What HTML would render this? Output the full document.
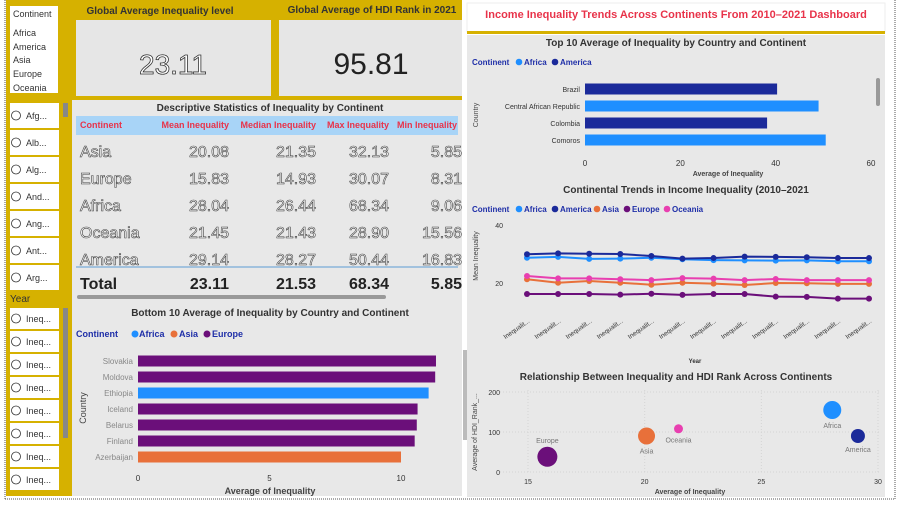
<!DOCTYPE html>
<html><head><meta charset="utf-8">
<style>
html,body{margin:0;padding:0;background:#fff;}
body{width:903px;height:504px;overflow:hidden;font-family:"Liberation Sans",sans-serif;}
svg text{font-family:"Liberation Sans",sans-serif;}
</style></head>
<body>
<svg id="dash" width="903" height="504" viewBox="0 0 903 504" xmlns="http://www.w3.org/2000/svg">
  <rect x="0" y="0" width="903" height="504" fill="#fff"/>
  <line x1="5" y1="0" x2="5" y2="499" stroke="#555" stroke-dasharray="1,1"/>
  <line x1="5" y1="499" x2="895" y2="499" stroke="#555" stroke-dasharray="1,1"/>
  <line x1="895" y1="0" x2="895" y2="499" stroke="#555" stroke-dasharray="1,1"/>
  <rect x="6" y="0" width="66" height="496" fill="#d6b100"/>
  <rect x="72" y="0" width="390" height="100" fill="#d6b100"/>
  <g>
    <rect x="10" y="6" width="48" height="87" fill="#fff"/>
    <text x="13" y="17" font-size="9" fill="#333">Continent</text>
    <text x="13" y="36" font-size="9" fill="#333">Africa</text>
    <text x="13" y="50" font-size="9" fill="#333">America</text>
    <text x="13" y="63" font-size="9" fill="#333">Asia</text>
    <text x="13" y="77" font-size="9" fill="#333">Europe</text>
    <text x="13" y="91" font-size="9" fill="#333">Oceania</text>
  </g>
  <g id="slicer1"></g>
  <rect x="63" y="103" width="5" height="14" fill="#888"/>
  <text x="10" y="302" font-size="10" fill="#333">Year</text>
  <g id="slicer2"></g>
  <rect x="63" y="308" width="5" height="130" fill="#888"/>
  <g>
    <text x="160" y="14" font-size="10" font-weight="bold" fill="#333" text-anchor="middle">Global Average Inequality level</text>
    <rect x="76" y="20" width="195" height="76" fill="#e6e6e6"/>
    <text x="173" y="74" font-size="28" fill="#fff" stroke="#333" stroke-width="0.8" text-anchor="middle">23.11</text>
  </g>
  <g>
    <text x="372" y="13" font-size="10" font-weight="bold" fill="#333" text-anchor="middle">Global Average of HDI Rank in 2021</text>
    <rect x="279" y="20" width="183" height="76" fill="#e6e6e6"/>
    <text x="371" y="74" font-size="30" fill="#222" text-anchor="middle">95.81</text>
  </g>
  <g>
    <rect x="72" y="100" width="390" height="200" fill="#e8e8e8"/>
    <text x="270" y="111" font-size="10" font-weight="bold" fill="#333" text-anchor="middle">Descriptive Statistics of Inequality by Continent</text>
    <rect x="76" y="116" width="382" height="19" fill="#a8d4f7"/>
    <text x="80" y="128" font-size="9" font-weight="bold" fill="#e8334a">Continent</text>
    <text x="229" y="128" font-size="9" font-weight="bold" fill="#e8334a" text-anchor="end">Mean Inequality</text>
    <text x="316" y="128" font-size="9" font-weight="bold" fill="#e8334a" text-anchor="end">Median Inequality</text>
    <text x="389" y="128" font-size="9" font-weight="bold" fill="#e8334a" text-anchor="end">Max Inequality</text>
    <text x="397" y="128" font-size="9" font-weight="bold" fill="#e8334a">Min Inequality</text>
    <g id="tbody"></g>
    <line x1="76" y1="267" x2="458" y2="267" stroke="#5b9bd5"/>
    <text x="80" y="289" font-size="16" font-weight="bold" fill="#222">Total</text>
    <text x="229" y="289" font-size="16" font-weight="bold" fill="#222" text-anchor="end">23.11</text>
    <text x="316" y="289" font-size="16" font-weight="bold" fill="#222" text-anchor="end">21.53</text>
    <text x="389" y="289" font-size="16" font-weight="bold" fill="#222" text-anchor="end">68.34</text>
    <text x="462" y="289" font-size="16" font-weight="bold" fill="#222" text-anchor="end">5.85</text>
    <rect x="77" y="295" width="309" height="4" rx="2" fill="#999"/>
  </g>
  <g id="bottomChart">
    <rect x="72" y="300" width="390" height="196" fill="#e8e8e8"/>
    <text x="270" y="316" font-size="10" font-weight="bold" fill="#333" text-anchor="middle">Bottom 10 Average of Inequality by Country and Continent</text>
    <g font-size="9" font-weight="bold">
      <text x="76" y="337" fill="#1f2fa8">Continent</text>
      <circle cx="135" cy="334" r="3.5" fill="#1f8fff"/><text x="139" y="337" fill="#1f2fa8">Africa</text>
      <circle cx="174" cy="334" r="3.5" fill="#e8703a"/><text x="179" y="337" fill="#1f2fa8">Asia</text>
      <circle cx="207" cy="334" r="3.5" fill="#6b0f7a"/><text x="212" y="337" fill="#1f2fa8">Europe</text>
    </g>
    <text transform="translate(86,408) rotate(-90)" font-size="9" fill="#444" text-anchor="middle">Country</text>
    <text x="270" y="494" font-size="9" font-weight="bold" fill="#444" text-anchor="middle">Average of Inequality</text>
  </g>
  <rect x="467" y="3" width="418" height="29" fill="#fff" stroke="#eee"/>
  <rect x="467" y="31" width="418" height="3" fill="#d6b100"/>
  <text x="676" y="18" font-size="11" font-weight="bold" fill="#e8334a" text-anchor="middle">Income Inequality Trends Across Continents From 2010–2021  Dashboard</text>
  <rect x="467" y="35" width="418" height="462" fill="#e8e8e8"/>
  <g id="topChart">
    <text x="676" y="46" font-size="10" font-weight="bold" fill="#333" text-anchor="middle">Top 10 Average of Inequality by Country and Continent</text>
    <g font-size="8" font-weight="bold">
      <text x="472" y="65" fill="#1f2fa8">Continent</text>
      <circle cx="519" cy="62" r="3.3" fill="#1f8fff"/><text x="524" y="65" fill="#1f2fa8">Africa</text>
      <circle cx="555" cy="62" r="3.3" fill="#1b2a9a"/><text x="560" y="65" fill="#1f2fa8">America</text>
    </g>
    <text transform="translate(478,115) rotate(-90)" font-size="7" fill="#444" text-anchor="middle">Country</text>
    <text x="728" y="176" font-size="7" font-weight="bold" fill="#444" text-anchor="middle">Average of Inequality</text>
    <rect x="876" y="78" width="4" height="28" rx="2" fill="#999"/>
  </g>
  <g id="lineChart">
    <text x="686" y="193" font-size="10" font-weight="bold" fill="#333" text-anchor="middle">Continental Trends in Income Inequality (2010–2021</text>
    <g font-size="8" font-weight="bold">
      <text x="472" y="212" fill="#1f2fa8">Continent</text>
      <circle cx="519" cy="209" r="3.3" fill="#1f8fff"/><text x="524" y="212" fill="#1f2fa8">Africa</text>
      <circle cx="555" cy="209" r="3.3" fill="#1b2a9a"/><text x="560" y="212" fill="#1f2fa8">America</text>
      <circle cx="597" cy="209" r="3.3" fill="#e8703a"/><text x="602" y="212" fill="#1f2fa8">Asia</text>
      <circle cx="627" cy="209" r="3.3" fill="#6b0f7a"/><text x="632" y="212" fill="#1f2fa8">Europe</text>
      <circle cx="667" cy="209" r="3.3" fill="#e83fb0"/><text x="672" y="212" fill="#1f2fa8">Oceania</text>
    </g>
    <text transform="translate(478,256) rotate(-90)" font-size="7" fill="#444" text-anchor="middle">Mean Inequality</text>
    <text x="695" y="363" font-size="6" font-weight="bold" fill="#333" text-anchor="middle">Year</text>
  </g>
  <g id="scatter">
    <text x="676" y="380" font-size="10" font-weight="bold" fill="#333" text-anchor="middle">Relationship Between Inequality and HDI Rank Across Continents</text>
    <text transform="translate(477,432) rotate(-90)" font-size="7" fill="#444" text-anchor="middle">Average of HDI_Rank_...</text>
    <text x="690" y="494" font-size="7" font-weight="bold" fill="#444" text-anchor="middle">Average of Inequality</text>
  </g>
  <rect x="463" y="350" width="4" height="90" fill="#bbb"/>
</svg>
<script>
const tableContinents = ["Asia","Europe","Africa","Oceania","America"];
const tableMean = ["20.08","15.83","28.04","21.45","29.14"];
const tableMedian = ["21.35","14.93","26.44","21.43","28.27"];
const tableMax = ["32.13","30.07","68.34","28.90","50.44"];
const tableMin = ["5.85","8.31","9.06","15.56","16.83"];

const slicer1Labels = ["Afg...","Alb...","Alg...","And...","Ang...","Ant...","Arg..."];
const slicer2Labels = ["Ineq...","Ineq...","Ineq...","Ineq...","Ineq...","Ineq...","Ineq...","Ineq..."];

const topCountries = ["Brazil","Central African Republic","Colombia","Comoros"];
const topValues = [40.3, 49.0, 38.2, 50.5];
const topContinents = ["America","Africa","America","Africa"];
const topTicks = [0,20,40,60];

const bottomCountries = ["Slovakia","Moldova","Ethiopia","Iceland","Belarus","Finland","Azerbaijan"];
const bottomValues = [11.33, 11.3, 11.05, 10.63, 10.6, 10.52, 10.0];
const bottomContinents = ["Europe","Europe","Africa","Europe","Europe","Europe","Asia"];
const bottomTicks = [0,5,10];

const years = ["Inequality 2010","Inequality 2011","Inequality 2012","Inequality 2013","Inequality 2014","Inequality 2015","Inequality 2016","Inequality 2017","Inequality 2018","Inequality 2019","Inequality 2020","Inequality 2021"];
const lineSeriesNames = ["Africa","America","Asia","Europe","Oceania"];
const africaLine = [28.7,29.0,28.3,28.4,28.7,28.2,27.9,27.8,27.7,27.8,27.5,27.5];
const americaLine = [29.9,30.2,30.1,30.0,29.3,28.4,28.6,29.1,29.0,28.9,28.6,28.6];
const asiaLine = [21.3,20.1,20.7,20.1,19.4,20.1,19.8,19.3,20.0,19.9,19.7,19.7];
const europeLine = [16.2,16.2,16.2,16.0,16.3,15.9,16.2,16.2,15.3,15.2,14.6,14.6];
const oceaniaLine = [22.4,21.6,21.6,21.3,21.0,21.7,21.5,21.0,21.4,21.0,21.0,21.0];
const lineTicks = [20,40];

const scatterNames = ["Europe","Asia","Oceania","Africa","America"];
const scatterX = [15.83, 20.08, 21.45, 28.04, 29.14];
const scatterY = [38, 90, 108, 155, 90];
const scatterSize = [10, 8.5, 4.5, 9, 7];
const scatterXTicks = [15,20,25,30];
const scatterYTicks = [0,100,200];

const colors = {Africa:"#1f8fff", America:"#1b2a9a", Asia:"#e8703a", Europe:"#6b0f7a", Oceania:"#e83fb0"};

const NS = "http://www.w3.org/2000/svg";
function mk(parent, tag, attrs, txt){
  const e = document.createElementNS(NS, tag);
  for (const k in attrs) e.setAttribute(k, attrs[k]);
  if (txt !== undefined) e.textContent = txt;
  parent.appendChild(e);
  return e;
}

const tbody = document.getElementById('tbody');
tableContinents.forEach((c,i)=>{
  const y = 157 + i*27;
  const g = mk(tbody,'g',{});
  
  
  const st = {"font-size":"16",fill:"#fff",stroke:"#444","stroke-width":"0.6"};
  mk(g,'text',Object.assign({x:80,y:y},st),c);
  mk(g,'text',Object.assign({x:229,y:y,"text-anchor":"end"},st),tableMean[i]);
  mk(g,'text',Object.assign({x:316,y:y,"text-anchor":"end"},st),tableMedian[i]);
  mk(g,'text',Object.assign({x:389,y:y,"text-anchor":"end"},st),tableMax[i]);
  mk(g,'text',Object.assign({x:462,y:y,"text-anchor":"end"},st),tableMin[i]);
});

function slicer(id, labels, y0, step, h){
  const p = document.getElementById(id);
  labels.forEach((l,i)=>{
    const y = y0 + i*step;
    const g = mk(p,'g',{});
    
    
    mk(g,'rect',{x:10,y:y,width:49,height:h,fill:"#fff"});
    mk(g,'circle',{cx:16,cy:y+h/2,r:4.5,fill:"none",stroke:"#333","stroke-width":"0.8"});
    mk(g,'text',{x:26,y:y+h/2+3.5,"font-size":"9",fill:"#333"},l);
  });
}
slicer('slicer1', slicer1Labels, 103, 27, 25);
slicer('slicer2', slicer2Labels, 308, 23, 21);

function hbar(pid, cats, vals, conts, ticks, x0, pxPerUnit, y0, step, bh, tickY, labelColor, fs, nm){
  const p = document.getElementById(pid);
  const sx = v => x0 + v*pxPerUnit;
  cats.forEach((c,i)=>{
    const cy = y0 + i*step;
    const t = mk(p,'text',{x:x0-5,y:cy+3,"font-size":fs,fill:labelColor,"text-anchor":"end"},c);
    
    
    const r = mk(p,'rect',{x:x0,y:cy-bh/2,width:sx(vals[i])-x0,height:bh,fill:colors[conts[i]]});
    
    
  });
  ticks.forEach(v=>{
    const t = mk(p,'text',{x:sx(v),y:tickY,"font-size":"8",fill:"#333","text-anchor":"middle"},String(v));
    
    
  });
}
hbar('topChart', topCountries, topValues, topContinents, topTicks, 585, 286/60, 89, 17, 11, 166, "#333", "7", "top10");
hbar('bottomChart', bottomCountries, bottomValues, bottomContinents, bottomTicks, 138, 263/10, 361, 16, 11, 481, "#888", "8", "bottom10");

(function(){
  const p = document.getElementById('lineChart');
  const xs = i => 527 + i*(869-527)/(years.length-1);
  const ys = v => 283 - (v-20)*58/20;
  lineTicks.forEach(v=>{
    const t = mk(p,'text',{x:503,y:ys(v)+3,"font-size":"7",fill:"#333","text-anchor":"end"},String(v));
    
    
  });
  years.forEach((yr,i)=>{
    const t = mk(p,'text',{transform:`translate(${xs(i)+3},${322}) rotate(-35)`,"font-size":"6.5",fill:"#333","text-anchor":"end"},"Inequalit...");
    
    
  });
  const series = [africaLine, americaLine, asiaLine, europeLine, oceaniaLine];
  series.forEach((s,k)=>{
    const c = colors[lineSeriesNames[k]];
    const pl = mk(p,'polyline',{points:s.map((v,i)=>xs(i)+','+ys(v)).join(' '),fill:"none",stroke:c,"stroke-width":"2"});
    
    
    s.forEach((v,i)=>{
      const d = mk(p,'circle',{cx:xs(i),cy:ys(v),r:3,fill:c});
      
      
    });
  });
})();

(function(){
  const p = document.getElementById('scatter');
  const sx = v => 528 + (v-15)*(878-528)/15;
  const sy = v => 472 - v*80/200;
  scatterXTicks.forEach(v=>{
    mk(p,'line',{x1:sx(v),y1:390,x2:sx(v),y2:472,stroke:"#d4d4d4","stroke-dasharray":"1,2"});
    const t = mk(p,'text',{x:sx(v),y:484,"font-size":"7",fill:"#333","text-anchor":"middle"},String(v));
    
    
  });
  scatterYTicks.forEach(v=>{
    mk(p,'line',{x1:500,y1:sy(v),x2:880,y2:sy(v),stroke:"#d4d4d4","stroke-dasharray":"1,2"});
    const t = mk(p,'text',{x:500,y:sy(v)+3,"font-size":"7",fill:"#333","text-anchor":"end"},String(v));
    
    
  });
  scatterNames.forEach((n,i)=>{
    const cx = sx(scatterX[i]), cy = sy(scatterY[i]);
    const c = mk(p,'circle',{cx:cx,cy:cy,r:scatterSize[i],fill:colors[n]});
    
    
    const above = (n==="Europe");
    const ly = above ? cy - scatterSize[i] - 4 : cy + scatterSize[i] + 9;
    const t = mk(p,'text',{x:cx,y:ly,"font-size":"7",fill:"#777","text-anchor":"middle"},n);
    
    
  });
})();
</script>
</body></html>
